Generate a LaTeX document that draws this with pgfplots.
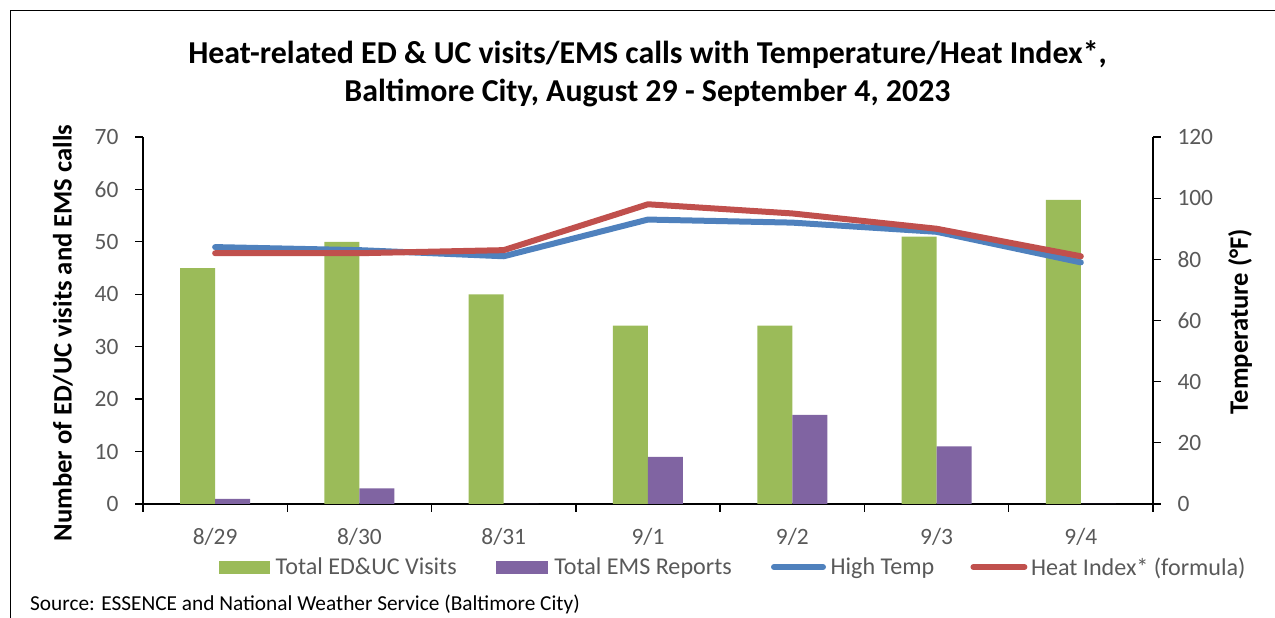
\documentclass[border=0pt]{standalone}
\usepackage{pgfplots}
\pgfplotsset{compat=1.18}
\usepackage{fontspec}
\setmainfont{Carlito}
\definecolor{cgreen}{HTML}{9BBB59}
\definecolor{cpurple}{HTML}{8064A2}
\definecolor{cblue}{HTML}{4F81BD}
\definecolor{cred}{HTML}{C0504D}
\definecolor{tickgray}{HTML}{595959}
\newcommand{\tickfont}{\fontsize{23.5}{28}\selectfont}
\newcommand{\legfont}{\fontsize{24.2}{29}\selectfont}
\begin{document}
\begin{tikzpicture}[x=1bp,y=1bp]
\useasboundingbox (0,0) rectangle (1275,618);
\draw[line width=1.3bp] (10.5,0) -- (10.5,607.5) -- (1275,607.5);
\node[font=\bfseries\fontsize{32}{38}\selectfont, align=center] at (647.5,544) {Heat-related ED \& UC visits/EMS calls with Temperature/Heat Index*,\\Baltimore City, August 29 - September 4, 2023};
\node[font=\bfseries\fontsize{26.7}{30}\selectfont, rotate=90] at (63,285) {Number of ED/UC visits and EMS calls};
\node[font=\bfseries\fontsize{26.7}{30}\selectfont, rotate=90] at (1240,296.5) {Temperature (°F)};
\node[anchor=west, inner sep=0pt, font=\fontsize{21.4}{25}\selectfont] at (30,14) {Source: ESSENCE and National Weather Service (Baltimore City)};
\begin{axis}[
  at={(143bp,114bp)}, anchor=south west,
  scale only axis, width=1010bp, height=367bp,
  xmin=-0.5, xmax=6.5, ymin=0, ymax=70,
  axis x line*=bottom, axis y line*=left,
  axis line style={-, line width=1.3bp, black},
  /pgf/number format/assume math mode=true,
  xtick={-0.5,0.5,...,6.5}, xticklabels={{},{},{},{},{},{},{},{}},
  extra x ticks={0,1,2,3,4,5,6},
  extra x tick labels={8/29,8/30,8/31,9/1,9/2,9/3,9/4},
  extra x tick style={major tick length=0pt, xticklabel style={font=\tickfont, text=tickgray, yshift=-21bp}},
  ytick={0,10,...,70},
  yticklabel style={xshift=-13bp},
  tick align=outside, major tick length=8bp,
  tick style={black, line width=1.3bp},
  ticklabel style={font=\tickfont, text=tickgray},
  ybar=0pt, bar width=35bp,
  legend columns=4,
  legend style={at={(0.0386,-0.1717)}, anchor=west, draw=none, fill=none, font=\legfont, text=tickgray, inner sep=0pt},
  legend cell align=left,
]
\addplot[fill=cgreen, draw=none, legend image code/.code={\path (-37bp,0) (54.5bp,0); \fill[cgreen] (0bp,-6.5bp) rectangle (51bp,6.5bp);}] coordinates {(0,45) (1,50) (2,40) (3,34) (4,34) (5,51) (6,58)};
\addlegendentry{Total ED\&UC Visits}
\addplot[fill=cpurple, draw=none, legend image code/.code={\path (-37bp,0) (56.5bp,0); \fill[cpurple] (0bp,-6.5bp) rectangle (52bp,6.5bp);}] coordinates {(0,1) (1,3) (2,0) (3,9) (4,17) (5,11) (6,0)};
\addlegendentry{Total EMS Reports}
\addlegendimage{legend image code/.code={\path (-37bp,0) (57.5bp,0); \draw[cblue, line width=6bp, line cap=round] (3bp,0) -- (52bp,0);}}
\addlegendentry{High Temp}
\addlegendimage{legend image code/.code={\path (-34bp,0) (58.5bp,0); \draw[cred, line width=6bp, line cap=round] (3bp,0) -- (54bp,0);}}
\addlegendentry{Heat Index* (formula)}
\end{axis}
\begin{axis}[
  at={(143bp,114bp)}, anchor=south west,
  scale only axis, width=1010bp, height=367bp,
  xmin=-0.5, xmax=6.5, ymin=0, ymax=120,
  axis x line=none, axis y line*=right,
  axis line style={-, line width=1.3bp, black},
  /pgf/number format/assume math mode=true,
  ytick={0,20,...,120},
  yticklabel style={xshift=13bp},
  tick align=outside, major tick length=8bp,
  tick style={black, line width=1.3bp},
  ticklabel style={font=\tickfont, text=tickgray},
]
\addplot[cblue, line width=6bp, line cap=round, line join=round] coordinates {(0,84) (1,83) (2,81) (3,93) (4,92) (5,89) (6,79)};
\addplot[cred, line width=6bp, line cap=round, line join=round] coordinates {(0,82) (1,82) (2,83) (3,98) (4,95) (5,90) (6,81)};
\end{axis}
\end{tikzpicture}
\end{document}
